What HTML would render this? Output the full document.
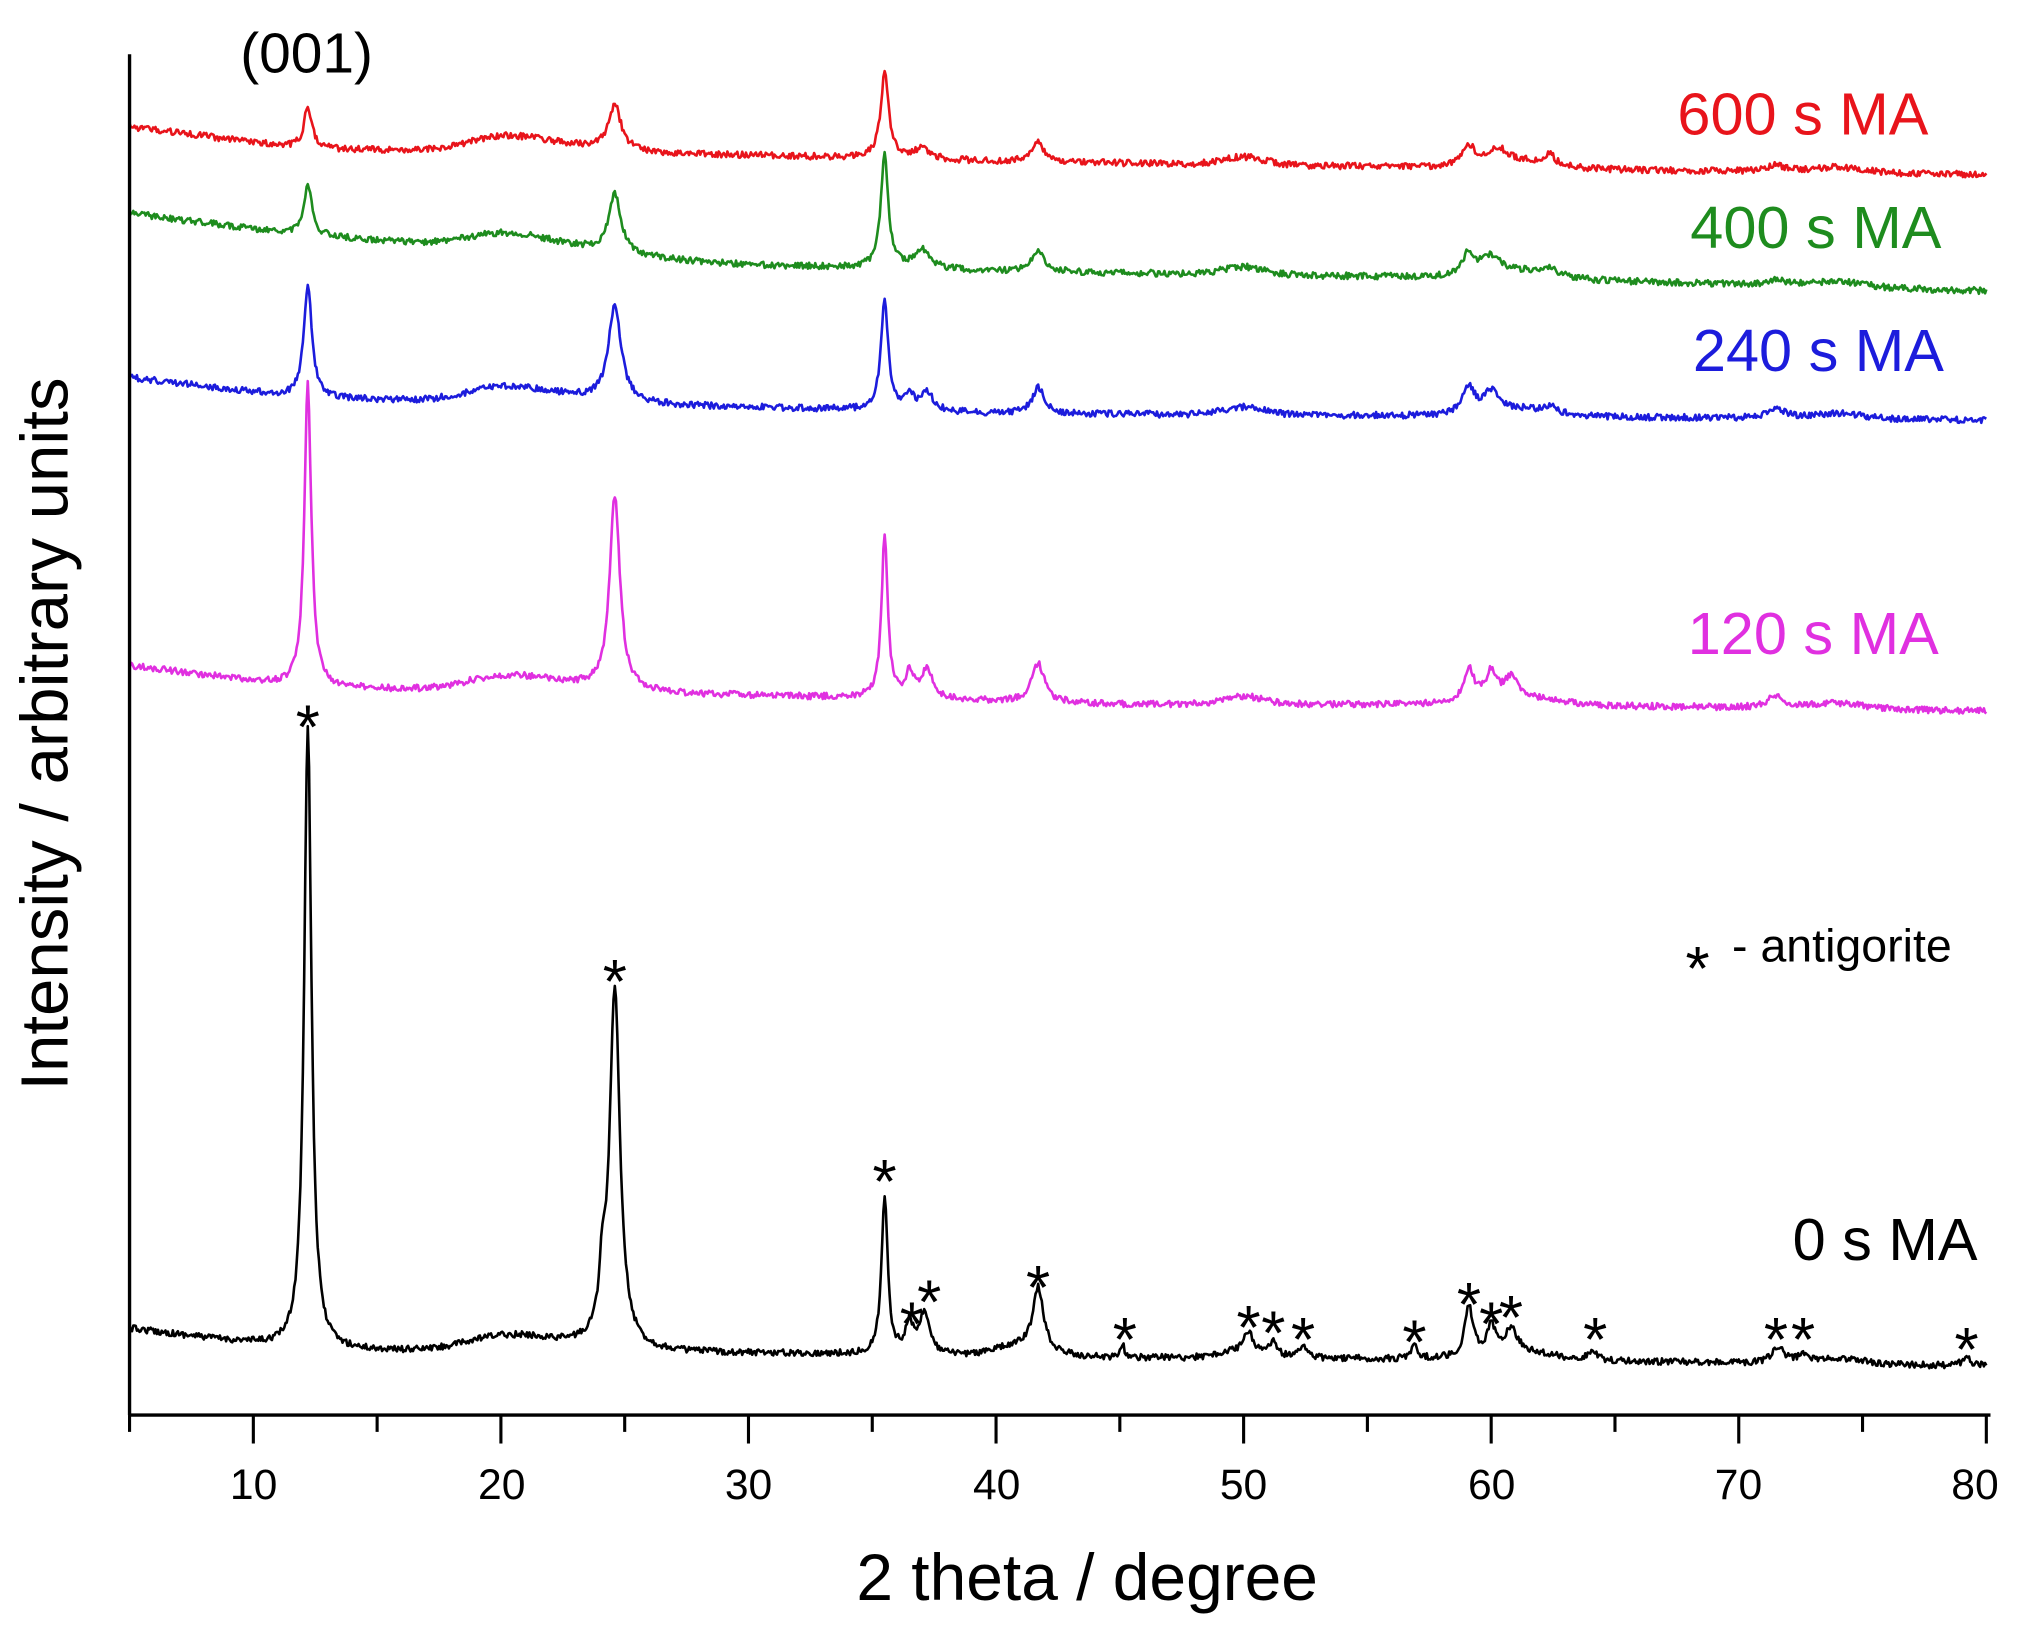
<!DOCTYPE html>
<html><head><meta charset="utf-8"><style>
html,body{margin:0;padding:0;background:#fff}
svg{display:block}
text{font-family:"Liberation Sans",Arial,sans-serif}
</style></head><body>
<svg id="s" width="2027" height="1649" viewBox="0 0 1568 1276" xmlns="http://www.w3.org/2000/svg">
<rect width="1568" height="1276" fill="#fff"/>
<g id="curves" fill="none" stroke-width="2" stroke-linejoin="round"></g>
<line x1="100" y1="42" x2="100" y2="1095" stroke="#000" stroke-width="2.6"/>
<line x1="99" y1="1095" x2="1540" y2="1095" stroke="#000" stroke-width="2.6"/>
<g id="ticks" stroke="#000" stroke-width="2.4"></g>
<g font-size="33" text-anchor="middle" fill="#000">
<text x="196" y="1160">10</text><text x="388" y="1160">20</text><text x="579" y="1160">30</text><text x="771" y="1160">40</text><text x="962" y="1160">50</text><text x="1154" y="1160">60</text><text x="1345" y="1160">70</text><text x="1528" y="1160">80</text>
</g>
<text x="841" y="1238" font-size="51" text-anchor="middle">2 theta / degree</text>
<text transform="translate(52,568) rotate(-90)" font-size="52" text-anchor="middle">Intensity / arbitrary units</text>
<text x="237" y="56" font-size="44" text-anchor="middle">(001)</text>
<g font-size="46" text-anchor="end">
<text x="1492" y="104" fill="#e8141b">600 s MA</text>
<text x="1502" y="192" fill="#1e8c1e">400 s MA</text>
<text x="1504" y="287" fill="#1c1cdc">240 s MA</text>
<text x="1500" y="506" fill="#e030e0">120 s MA</text>
<text x="1530" y="975" fill="#000">0 s MA</text>
</g>
<text x="1304" y="766" font-size="48">*</text><text x="1340" y="744" font-size="36">- antigorite</text>
<g id="stars" font-size="48" text-anchor="middle" fill="#000"></g>
</svg>
<script>
var NS="http://www.w3.org/2000/svg";
function px(x){return 100+(x-5)*19.157;}
var seed=12345;function rnd(){seed=(seed*16807)%2147483647;return seed/2147483647;}
function interp(pts,x){for(var i=0;i<pts.length-1;i++){if(x<=pts[i+1][0]){var t=(x-pts[i][0])/(pts[i+1][0]-pts[i][0]);return pts[i][1]+t*(pts[i+1][1]-pts[i][1]);}}return pts[pts.length-1][1];}
function series(base,humps,peaks,noise,color){
 var d="";
 for(var x=5;x<=80;x+=0.05){
  var y=interp(base,x);
  humps.forEach(function(h){y-=h[1]*Math.exp(-Math.pow((x-h[0])/h[2],2));});
  peaks.forEach(function(p){var w=p[2];y-=p[1]/(1+Math.pow((x-p[0])/w,2));});
  y+=(rnd()-0.5)*noise;
  d+=(d?"L":"M")+px(x).toFixed(1)+","+y.toFixed(1);
 }
 var p=document.createElementNS(NS,"path");p.setAttribute("d",d);p.setAttribute("stroke",color);
 document.getElementById("curves").appendChild(p);
}
var H=[[20,8,2],[22,6,3],[50,6,1.2],[61,6,2],[74,4,1.5]];
series([[5,1028],[12,1045],[30,1047],[40,1050],[60,1052],[80,1057]],H.concat([[41,8,1.5]]),
 [[12.2,485,0.18],[24.6,278,0.25],[24.1,40,0.15],[35.5,122,0.15],[36.5,22,0.2],[37.1,32,0.25],[41.7,48,0.25],[45.1,10,0.1],[50.2,15,0.2],[51.2,10,0.2],[52.4,10,0.2],[56.9,12,0.15],[59.1,38,0.2],[60,20,0.2],[60.8,18,0.3],[64.1,8,0.2],[71.6,12,0.3],[72.6,6,0.2],[79.2,7,0.2]],5,"#000");
series([[5,515],[12,532],[30,538],[45,545],[60,545],[80,550]],H,
 [[12.2,235,0.17],[24.6,150,0.25],[35.5,125,0.15],[36.5,18,0.2],[37.2,22,0.3],[41.7,30,0.3],[59.1,25,0.25],[60,20,0.25],[60.8,15,0.3],[71.5,10,0.4]],5,"#e030e0");
series([[5,292],[12,308],[30,315],[40,320],[60,322],[80,325]],H,
 [[12.2,88,0.2],[24.6,75,0.3],[35.5,85,0.18],[36.5,12,0.2],[37.2,15,0.3],[41.7,20,0.3],[59.1,20,0.3],[60,15,0.3],[62.4,6,0.2],[71.5,8,0.4]],5,"#1c1cdc");
series([[5,165],[12,182],[30,205],[40,210],[60,215],[80,225]],H,
 [[12.2,40,0.2],[24.6,45,0.3],[35.5,88,0.18],[37,15,0.4],[41.7,17,0.3],[59.1,17,0.3],[60,12,0.4],[62.4,6,0.3],[71.5,5,0.4]],5,"#1e8c1e");
series([[5,98],[12,115],[30,120],[40,125],[60,130],[80,135]],H,
 [[12.2,32,0.2],[24.6,35,0.3],[35.5,65,0.2],[37,8,0.4],[41.7,15,0.3],[59.1,15,0.3],[60.3,10,0.4],[62.4,8,0.2],[71.5,5,0.4]],5,"#e8141b");
var t=document.getElementById("ticks"),tk="";
for(var v=5;v<=80;v+=5){var L=(v%10==0)?22:13;tk+='<line x1="'+px(v)+'" y1="1095" x2="'+px(v)+'" y2="'+(1095+L)+'"/>';}
t.innerHTML=tk;
var st=[[12.2,553],[24.6,750],[35.5,905],[36.6,1015],[37.3,998],[41.7,987],[45.2,1027],[50.2,1018],[51.2,1022],[52.4,1027],[56.9,1029],[59.1,1000],[60,1015],[60.8,1010],[64.2,1027],[71.5,1027],[72.6,1027],[79.2,1035]];
var s="";st.forEach(function(a){s+='<text x="'+px(a[0])+'" y="'+(a[1]+26)+'">*</text>';});
document.getElementById("stars").innerHTML=s;
</script>
</body></html>
